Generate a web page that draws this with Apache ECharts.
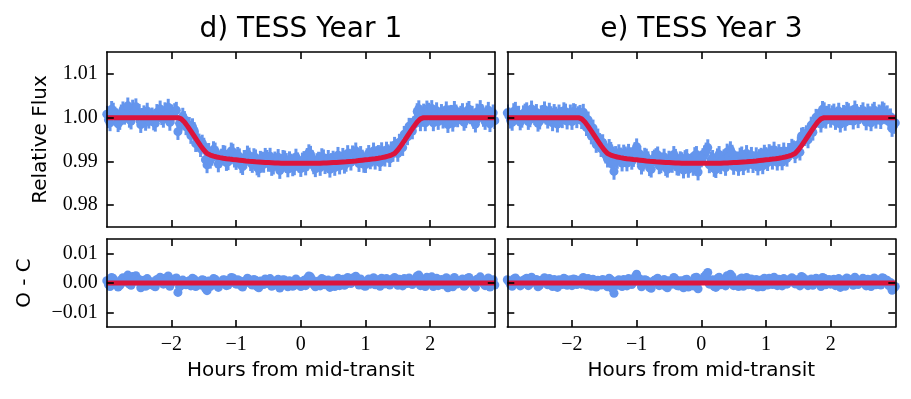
<!DOCTYPE html>
<html>
<head>
<meta charset="utf-8">
<script src="https://cdn.jsdelivr.net/npm/echarts@6/dist/echarts.min.js"></script>
<style>
html,body{margin:0;padding:0;background:#fff;}
#chart{width:911px;height:399px;}
</style>
</head>
<body>
<div id="chart"></div>
<script>
// ---- data ----
// exposures on the full-step grid
const hours = [
-3,-2.95,-2.9,-2.85,-2.8,-2.75,-2.7,-2.65,-2.6,-2.55,
-2.5,-2.45,-2.4,-2.35,-2.3,-2.25,-2.2,-2.15,-2.1,-2.05,
-2,-1.95,-1.9,-1.85,-1.8,-1.75,-1.7,-1.65,-1.6,-1.55,
-1.5,-1.45,-1.4,-1.35,-1.3,-1.25,-1.2,-1.15,-1.1,-1.05,
-1,-0.95,-0.9,-0.85,-0.8,-0.75,-0.7,-0.65,-0.6,-0.55,
-0.5,-0.45,-0.4,-0.35,-0.3,-0.25,-0.2,-0.15,-0.1,-0.05,
0,0.05,0.1,0.15,0.2,0.25,0.3,0.35,0.4,0.45,
0.5,0.55,0.6,0.65,0.7,0.75,0.8,0.85,0.9,0.95,
1,1.05,1.1,1.15,1.2,1.25,1.3,1.35,1.4,1.45,
1.5,1.55,1.6,1.65,1.7,1.75,1.8,1.85,1.9,1.95,
2,2.05,2.1,2.15,2.2,2.25,2.3,2.35,2.4,2.45,
2.5,2.55,2.6,2.65,2.7,2.75,2.8,2.85,2.9,2.95,
3];

// transit model (red curve)
const modelFlux = [
1,1,1,1,1,1,1,1,1,1,
1,1,1,1,1,1,1,1,1,1,
1,1,1,0.9997,0.9990,0.9980,0.9969,0.9958,0.9947,0.9936,
0.9926,0.9918,0.99145,0.9912,0.99101,0.99086,0.99073,0.99062,0.99052,0.99043,
0.99035,0.99027,0.99019,0.99011,0.99004,0.98998,0.98992,0.98987,0.98982,0.98977,
0.98973,0.98969,0.98965,0.98962,0.98959,0.98957,0.98956,0.98955,0.98955,0.98955,
0.98955,0.98955,0.98955,0.98955,0.98956,0.98957,0.98959,0.98962,0.98965,0.98969,
0.98973,0.98977,0.98982,0.98987,0.98992,0.98998,0.99004,0.99011,0.99019,0.99027,
0.99035,0.99043,0.99052,0.99062,0.99073,0.99086,0.99101,0.9912,0.99145,0.9918,
0.9926,0.9936,0.9947,0.9958,0.9969,0.9980,0.9990,0.9997,1,1,
1,1,1,1,1,1,1,1,1,1,
1,1,1,1,1,1,1,1,1,1,
1];

const fluxY1 = [
1.0008,0.9988,1.0015,1.0002,0.9991,1.0018,1.0010,0.9996,1.0022,1.0025,
1.0012,1.0003,0.9989,0.9994,1.0004,0.9987,1.0009,1.0002,1.0016,1.0024,
1.0011,1.0014,0.9968,0.9989,0.9996,0.9982,0.9959,0.9971,0.9951,0.9929,
0.9935,0.9892,0.99025,0.9927,0.99151,0.99056,0.99183,0.98972,0.99112,0.99213,
0.98995,0.99107,0.98879,0.99031,0.99124,0.98928,0.99082,0.98827,0.99032,0.99117,
0.98953,0.98859,0.99035,0.99092,0.98909,0.99057,0.98826,0.98985,0.98875,0.99015,
0.98835,0.99045,0.99115,0.99165,0.98896,0.98997,0.98859,0.99082,0.98975,0.98819,
0.99053,0.99007,0.98892,0.99117,0.98952,0.99098,0.99174,0.99241,0.98949,0.99077,
0.98925,0.99183,0.99072,0.99002,0.99183,0.99246,0.99071,0.9920,0.99265,0.9937,
0.9918,0.9942,0.9962,0.9956,0.9980,0.9984,1.0014,0.9988,1.0013,1.0020,
1.0007,0.9988,1.0016,1.0003,0.9994,1.0018,1.0009,0.9987,1.0011,1.0004,
1.0014,0.9995,1.0019,1.0008,0.9985,1.0006,1.0012,0.9991,1.0017,1.0003,
0.9993];

const residY1 = [
0.0008,-0.0012,0.0015,0.0002,-0.0009,0.0018,0.0010,-0.0004,0.0022,0.0025,
0.0012,0.0003,-0.0011,-0.0006,0.0004,-0.0013,0.0009,0.0002,0.0016,0.0024,
0.0011,0.0014,-0.0032,-0.0008,0.0006,0.0002,-0.0010,0.0013,0.0004,-0.0007,
0.0009,-0.0026,-0.0012,0.0015,0.0005,-0.0003,0.0011,-0.0009,0.0006,0.0017,
-0.0004,0.0008,-0.0014,0.0002,0.0012,-0.0007,0.0009,-0.0016,0.0005,0.0014,
-0.0002,-0.0011,0.0007,0.0013,-0.0005,0.0010,-0.0013,0.0003,-0.0008,0.0006,
-0.0012,0.0009,0.0016,0.0021,-0.0006,0.0004,-0.0010,0.0012,0.0001,-0.0015,
0.0008,0.0003,-0.0009,0.0013,-0.0004,0.0010,0.0017,0.0023,-0.0007,0.0005,
-0.0011,0.0014,0.0002,-0.0006,0.0011,0.0016,-0.0003,0.0008,0.0012,0.0019,
-0.0008,0.0006,0.0015,-0.0002,0.0011,0.0004,0.0024,-0.0009,0.0013,0.0020,
0.0007,-0.0012,0.0016,0.0003,-0.0006,0.0018,0.0009,-0.0013,0.0011,0.0004,
0.0014,-0.0005,0.0019,0.0008,-0.0015,0.0006,0.0012,-0.0009,0.0017,0.0003,
-0.0007];

const fluxY3 = [
1.0011,0.9994,1.0014,1.0004,0.9990,1.0009,1.0016,0.9997,1.0007,1.0012,
0.9992,1.0010,1.0003,1.0015,0.9988,1.0006,1.0011,0.9995,1.0013,1.0002,
0.9991,1.0012,1.0007,0.9993,1.0000,0.9995,0.9958,0.9963,0.9956,0.9929,
0.9932,0.9905,0.99255,0.9877,0.99021,0.99126,0.99193,0.98962,0.99132,0.99063,
0.99335,0.99167,0.98959,0.99101,0.98854,0.99048,0.99112,0.98897,0.99012,0.98857,
0.99053,0.98929,0.99095,0.98862,0.99019,0.99067,0.98816,0.98995,0.99135,0.98755,
0.99055,0.99175,0.99315,0.99035,0.98836,0.99107,0.98899,0.99082,0.99215,0.99269,
0.98883,0.99037,0.99122,0.98877,0.99182,0.99028,0.98924,0.99131,0.99089,0.98897,
0.99135,0.99203,0.99002,0.99152,0.99203,0.98986,0.99141,0.9923,0.99325,0.9915,
0.9938,0.9958,0.9954,0.9949,0.9983,0.9985,1.0000,0.9985,1.0016,1.0008,
0.9996,1.0013,1.0006,0.9985,1.0010,1.0017,1.0002,0.9992,1.0012,1.0005,
1.0016,0.9990,1.0007,1.0013,0.9994,1.0011,1.0018,1.0004,0.9991,0.9975,
0.9988];

const residY3 = [
0.0011,-0.0006,0.0014,0.0004,-0.0010,0.0009,0.0016,-0.0003,0.0007,0.0012,
-0.0008,0.0010,0.0003,0.0015,-0.0012,0.0006,0.0011,-0.0005,0.0013,0.0002,
-0.0009,0.0012,0.0007,-0.0004,0.0010,0.0015,-0.0011,0.0005,0.0009,-0.0007,
0.0006,-0.0013,0.0011,-0.0035,-0.0008,0.0004,0.0012,-0.0010,0.0008,0.0002,
0.0030,0.0014,-0.0006,0.0009,-0.0015,0.0005,0.0012,-0.0009,0.0003,-0.0012,
0.0008,-0.0004,0.0013,-0.0010,0.0006,0.0011,-0.0014,0.0004,0.0018,-0.0020,
0.0010,0.0022,0.0036,0.0008,-0.0012,0.0015,-0.0006,0.0012,0.0025,0.0030,
-0.0009,0.0006,0.0014,-0.0011,0.0019,0.0003,-0.0008,0.0012,0.0007,-0.0013,
0.0010,0.0016,-0.0005,0.0009,0.0013,-0.0010,0.0004,0.0011,0.0018,-0.0003,
0.0012,0.0022,0.0007,-0.0009,0.0014,0.0005,0.0010,-0.0012,0.0016,0.0008,
-0.0004,0.0013,0.0006,-0.0015,0.0010,0.0017,0.0002,-0.0008,0.0012,0.0005,
0.0016,-0.0010,0.0007,0.0013,-0.0006,0.0011,0.0018,0.0004,-0.0009,-0.0025,
-0.0012];

// exposures between the full-step grid
const hoursMid = [
-2.975,-2.925,-2.875,-2.825,-2.775,-2.725,-2.675,-2.625,-2.575,-2.525,
-2.475,-2.425,-2.375,-2.325,-2.275,-2.225,-2.175,-2.125,-2.075,-2.025,
-1.975,-1.925,-1.875,-1.825,-1.775,-1.725,-1.675,-1.625,-1.575,-1.525,
-1.475,-1.425,-1.375,-1.325,-1.275,-1.225,-1.175,-1.125,-1.075,-1.025,
-0.975,-0.925,-0.875,-0.825,-0.775,-0.725,-0.675,-0.625,-0.575,-0.525,
-0.475,-0.425,-0.375,-0.325,-0.275,-0.225,-0.175,-0.125,-0.075,-0.025,
0.025,0.075,0.125,0.175,0.225,0.275,0.325,0.375,0.425,0.475,
0.525,0.575,0.625,0.675,0.725,0.775,0.825,0.875,0.925,0.975,
1.025,1.075,1.125,1.175,1.225,1.275,1.325,1.375,1.425,1.475,
1.525,1.575,1.625,1.675,1.725,1.775,1.825,1.875,1.925,1.975,
2.025,2.075,2.125,2.175,2.225,2.275,2.325,2.375,2.425,2.475,
2.525,2.575,2.625,2.675,2.725,2.775,2.825,2.875,2.925,2.975];

const fluxMidY1 = [
0.9995,1.0019,1.0006,0.9986,1.0011,1.0003,1.0027,0.9992,1.0013,1.0006,
0.9984,1.0009,1.0015,1.0001,0.9990,1.0012,1.0020,0.9996,1.0008,0.9989,
1.0005,1.0017,0.9987,1.00035,0.9979,0.99825,0.99795,0.99405,0.99445,0.9942,
0.9904,0.9923,0.9909,0.9924,0.9894,0.9910,0.9917,0.9899,0.9924,0.9905,
0.9914,0.9892,0.9907,0.9917,0.9897,0.9911,0.9887,0.9905,0.9893,0.9907,
0.9912,0.9889,0.9898,0.9879,0.9907,0.9900,0.9904,0.9885,0.9910,0.9893,
0.9901,0.9887,0.9920,0.9907,0.9883,0.9903,0.9911,0.9890,0.9907,0.9900,
0.9886,0.9914,0.9903,0.9891,0.9918,0.9898,0.9912,0.9907,0.9916,0.9893,
0.9911,0.9901,0.9924,0.9916,0.9897,0.9913,0.9926,0.9906,0.9918,0.9932,
0.9944,0.99315,0.99605,0.99805,0.99695,0.9995,1.00205,1.0005,0.9988,1.0015,
1.0021,1.0004,0.9991,1.0012,1.0006,0.9984,1.0010,1.0019,0.9997,1.0008,
0.9989,1.0015,1.0004,0.9993,1.0013,1.0021,0.9998,1.0009,0.9986,1.0011];

const residMidY1 = [
-0.0005,0.0019,0.0006,-0.0014,0.0011,0.0003,0.0027,-0.0008,0.0013,0.0006,
-0.0016,0.0009,0.0015,0.0001,-0.0010,0.0012,0.0020,-0.0004,0.0008,-0.0011,
0.0005,0.0017,-0.0013,0.0010,-0.0006,0.0008,0.0016,-0.0012,0.0003,0.0011,
-0.0018,0.0007,-0.0004,0.0013,-0.0015,0.0002,0.0010,-0.0007,0.0019,0.0001,
0.0011,-0.0010,0.0006,0.0016,-0.0003,0.0012,-0.0012,0.0007,-0.0005,0.0009,
0.0015,-0.0008,0.0002,-0.0017,0.0011,0.0004,0.0008,-0.0011,0.0014,-0.0003,
0.0005,-0.0009,0.0024,0.0011,-0.0013,0.0007,0.0015,-0.0006,0.0010,0.0003,
-0.0012,0.0016,0.0005,-0.0008,0.0019,-0.0002,0.0011,0.0006,0.0014,-0.0010,
0.0007,-0.0004,0.0018,0.0009,-0.0011,0.0004,0.0015,-0.0007,0.0002,0.0010,
0.0013,-0.0010,0.0008,0.0017,-0.0005,0.0010,0.0027,0.0005,-0.0012,0.0015,
0.0021,0.0004,-0.0009,0.0012,0.0006,-0.0016,0.0010,0.0019,-0.0003,0.0008,
-0.0011,0.0015,0.0004,-0.0007,0.0013,0.0021,-0.0002,0.0009,-0.0014,0.0011];

const fluxMidY3 = [
1.0004,0.9989,1.0017,1.0008,0.9996,1.0013,0.9991,1.0020,1.0002,0.9987,
1.0009,1.0018,0.9994,1.0007,1.0012,0.9985,1.0005,1.0016,0.9992,1.0011,
1.0014,0.9995,1.0010,1.00125,0.9977,0.99805,0.99765,0.99385,0.99455,0.9943,
0.9914,0.9932,0.9893,0.9916,0.9920,0.9896,0.9915,0.9921,0.9900,0.9925,
0.9910,0.9889,0.9912,0.9904,0.9882,0.9908,0.9915,0.9892,0.9910,0.9882,
0.9901,0.9916,0.9887,0.9904,0.9880,0.9909,0.9898,0.9886,0.9916,0.9902,
0.9911,0.9924,0.9892,0.9907,0.9881,0.9916,0.9903,0.9886,0.9910,0.9919,
0.9903,0.9886,0.9915,0.9907,0.9893,0.9914,0.9903,0.9887,0.9912,0.9919,
0.9897,0.9917,0.9926,0.9898,0.9914,0.9924,0.9907,0.9922,0.9929,0.9927,
0.9921,0.99595,0.99635,0.99675,0.99665,1.0001,1.00005,1.0019,0.9994,1.0012,
1.0009,0.9991,1.0015,1.0003,0.9989,1.0014,1.0008,1.0020,0.9995,1.0010,
1.0006,1.0013,0.9988,1.0017,1.0004,0.9993,1.0015,1.0009,1.0002,0.9982];

const residMidY3 = [
0.0004,-0.0011,0.0017,0.0008,-0.0004,0.0013,-0.0009,0.0020,0.0002,-0.0013,
0.0009,0.0018,-0.0006,0.0007,0.0012,-0.0015,0.0005,0.0016,-0.0008,0.0011,
0.0014,-0.0005,0.0010,0.0019,-0.0008,0.0006,0.0013,-0.0014,0.0004,0.0012,
-0.0008,0.0016,-0.0020,0.0005,0.0011,-0.0012,0.0008,0.0015,-0.0005,0.0021,
0.0007,-0.0013,0.0011,0.0003,-0.0018,0.0009,0.0016,-0.0006,0.0012,-0.0016,
0.0004,0.0019,-0.0009,0.0008,-0.0016,0.0013,0.0002,-0.0010,0.0020,0.0006,
0.0015,0.0028,-0.0004,0.0011,-0.0015,0.0020,0.0007,-0.0010,0.0013,0.0022,
0.0005,-0.0012,0.0017,0.0008,-0.0006,0.0014,0.0002,-0.0014,0.0010,0.0016,
-0.0007,0.0012,0.0020,-0.0009,0.0006,0.0015,-0.0004,0.0009,0.0013,0.0005,
-0.0010,0.0018,0.0011,0.0004,-0.0008,0.0016,0.0007,0.0019,-0.0006,0.0012,
0.0009,-0.0009,0.0015,0.0003,-0.0011,0.0014,0.0008,0.0020,-0.0005,0.0010,
0.0006,0.0013,-0.0012,0.0017,0.0004,-0.0007,0.0015,0.0009,0.0002,-0.0018];

const ocModel = [0, 0];
const ocModelHours = [-3, 3];
const fluxErr = 0.0019;

const hourTicks = [-2, -1, 0, 1, 2];
const fluxTicks = [0.98, 0.99, 1.00, 1.01];
const ocTicks = [-0.01, 0, 0.01];
const panelTitles = ['d) TESS Year 1', 'e) TESS Year 3'];
const xLabel = 'Hours from mid-transit';
const yLabelTop = 'Relative Flux';
const yLabelBottom = 'O - C';

// ---- styling / layout ----
const BLUE = '#6495ED';
const RED = '#DC143C';
const SERIF = '"Liberation Serif", "DejaVu Serif", serif';
const SANS = '"DejaVu Sans", sans-serif';
const colLeft = [106.8, 507.3];
const colWidth = 388;
const rowTop = [52, 239];
const rowHeight = [175, 88];

const minus = s => s.replace('-', '\u2212');
const fmtHour = v => minus(String(v));
const fmt2 = v => Math.abs(v) < 1e-9 ? '0.00' : minus(v.toFixed(2));

const grids = [], xAxes = [], yAxes = [], series = [];
const axisLineStyle = { color: '#000', width: 1.6 };

function addPanel(col, row, yMin, yMax, yTicks, xs, ys, lineXs, lineYs, withErr) {
  const gi = grids.length;
  grids.push({ left: colLeft[col], top: rowTop[row], width: colWidth, height: rowHeight[row], show: false });
  const showX = row === 1, showY = col === 0;
  ['bottom', 'top'].forEach((pos, k) => {
    xAxes.push({
      type: 'value', gridIndex: gi, position: pos, min: -3, max: 3, z: 10,
      axisLine: { show: true, onZero: false, lineStyle: axisLineStyle },
      axisTick: { show: true, inside: true, length: 7, customValues: hourTicks, lineStyle: axisLineStyle },
      axisLabel: { show: showX && k === 0, customValues: hourTicks, formatter: fmtHour,
        fontFamily: SERIF, fontSize: 20, color: '#000', margin: 8 },
      splitLine: { show: false }
    });
  });
  ['left', 'right'].forEach((pos, k) => {
    yAxes.push({
      type: 'value', gridIndex: gi, position: pos, min: yMin, max: yMax, z: 10,
      axisLine: { show: true, onZero: false, lineStyle: axisLineStyle },
      axisTick: { show: true, inside: true, length: 7, customValues: yTicks, lineStyle: axisLineStyle },
      axisLabel: { show: showY && k === 0, customValues: yTicks, formatter: fmt2,
        fontFamily: SERIF, fontSize: 20, color: '#000', margin: 9 },
      splitLine: { show: false }
    });
  });
  const xi = gi * 2, yi = gi * 2;
  const pts = xs.map((t, i) => [t, ys[i]]);
  if (withErr) {
    series.push({
      type: 'custom', xAxisIndex: xi, yAxisIndex: yi, clip: true, z: 1, silent: true,
      data: pts,
      renderItem: (params, api) => {
        const x = api.value(0), y = api.value(1);
        const a = api.coord([x, y - fluxErr]), b = api.coord([x, y + fluxErr]);
        return { type: 'line', shape: { x1: a[0], y1: a[1], x2: b[0], y2: b[1] },
          style: { stroke: BLUE, lineWidth: 3 } };
      }
    });
  }
  series.push({
    type: 'scatter', xAxisIndex: xi, yAxisIndex: yi, clip: true, z: 2, silent: true,
    symbol: 'circle', symbolSize: 9, itemStyle: { color: BLUE, opacity: 1 },
    data: pts
  });
  series.push({
    type: 'line', xAxisIndex: xi, yAxisIndex: yi, z: 3, silent: true,
    showSymbol: false, symbol: 'none', smooth: false,
    lineStyle: { color: RED, width: 5 },
    data: lineXs.map((t, i) => [t, lineYs[i]])
  });
}

const allHours = hours.concat(hoursMid);
addPanel(0, 0, 0.975, 1.015, fluxTicks, allHours, fluxY1.concat(fluxMidY1), hours, modelFlux, true);
addPanel(0, 1, -0.015, 0.015, ocTicks, allHours, residY1.concat(residMidY1), ocModelHours, ocModel, false);
addPanel(1, 0, 0.975, 1.015, fluxTicks, allHours, fluxY3.concat(fluxMidY3), hours, modelFlux, true);
addPanel(1, 1, -0.015, 0.015, ocTicks, allHours, residY3.concat(residMidY3), ocModelHours, ocModel, false);

function txt(text, x, y, size, rot) {
  return { type: 'text', x: x, y: y, rotation: rot || 0, z: 20,
    style: { text: text, font: size + 'px ' + SANS, fill: '#000',
      align: 'center', verticalAlign: 'middle', textAlign: 'center', textVerticalAlign: 'middle' } };
}
const graphics = [
  txt(panelTitles[0], colLeft[0] + colWidth / 2, 30, 28),
  txt(panelTitles[1], colLeft[1] + colWidth / 2, 30, 28),
  txt(xLabel, colLeft[0] + colWidth / 2, 370.5, 20),
  txt(xLabel, colLeft[1] + colWidth / 2, 370.5, 20),
  txt(yLabelTop, 41, 139.5, 20, Math.PI / 2),
  txt(yLabelBottom, 25, 283, 20, Math.PI / 2)
];

const chart = echarts.init(document.getElementById('chart'), null, { renderer: 'canvas' });
chart.setOption({
  animation: false,
  backgroundColor: '#fff',
  grid: grids, xAxis: xAxes, yAxis: yAxes, series: series,
  graphic: { elements: graphics }
});
</script>
</body>
</html>
